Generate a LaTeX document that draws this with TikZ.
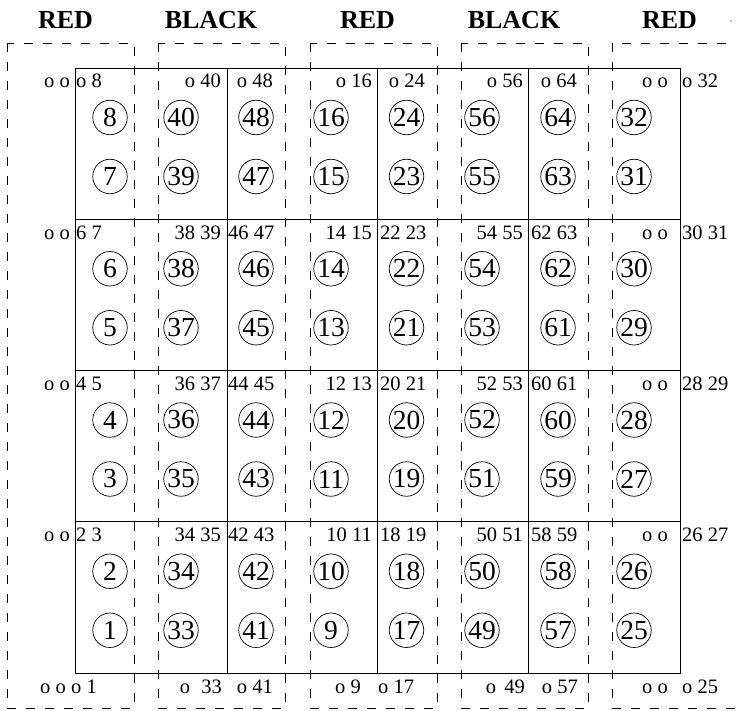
\documentclass[tikz,border=0pt]{standalone}
\usepackage{fontspec}
\setmainfont{Liberation Serif}
\begin{document}
\begin{tikzpicture}[x=1pt,y=-1pt,
  lab/.style={font=\fontsize{20.5}{22}\selectfont, inner sep=0pt},
  labl/.style={lab, anchor=base east},
  labr/.style={lab, anchor=base west},
  hdr/.style={font=\fontsize{26}{28}\selectfont\bfseries, inner sep=0pt, anchor=base},
  cnum/.style={draw, circle, line width=0.7pt, minimum size=34.5pt, inner sep=0pt, font=\fontsize{27.5}{29}\selectfont},
  grp/.style={line width=0.8pt, dash pattern=on 9pt off 10pt},
  gridl/.style={line width=0.8pt}]
\useasboundingbox (0,0) rectangle (736,711);

% headers
\node[hdr] (h1) at (65.5,29) {RED};
\node[hdr] (h2) at (211,29) {BLACK};
\node[hdr] (h3) at (367.5,29) {RED};
\node[hdr] (h4) at (514,29) {BLACK};
\node[hdr] (h5) at (669.5,29) {RED};
\node[circle, fill, inner sep=0pt, minimum size=1.4pt] (dot) at (731,21) {};

% dashed groups
\draw[grp] (7,43) rectangle (134,708);
\draw[grp] (158,43) rectangle (285,708);
\draw[grp] (310,43) rectangle (437,708);
\draw[grp] (461,43) rectangle (588,708);
\draw[grp] (745,43) -- (612,43) -- (612,708) -- (745,708);

% solid grid
\draw[gridl] (75,68) rectangle (680,673);
\foreach \gx in {227,377,528} \draw[gridl] (\gx,68) -- (\gx,673);
\foreach \gy in {219.25,370.5,521.75} \draw[gridl] (75,\gy) -- (680,\gy);

% circled numbers
\foreach \cx/\ct in {110/8,181/40,256/48,331/16,406.5/24,482/56,558/64,634/32} {
  \foreach \r in {0,1,2,3} {
    \pgfmathtruncatemacro\ca{\ct-2*\r}
    \pgfmathtruncatemacro\cb{\ct-2*\r-1}
    \pgfmathsetmacro\yy{68+151.25*\r}
    \node[cnum] (c\ca) at (\cx,\yy+49.5) {\ca};
    \node[cnum] (c\cb) at (\cx,\yy+108.5) {\cb};
  }
}

% row 0 labels
\node[labl] (a0) at (70,88) {o o};
\node[labr] (b0) at (76,88) {o 8};
\node[labl] (a1) at (221,88) {o 40};
\node[labl] (b1) at (273,88) {o 48};
\node[labl] (a2) at (372,88) {o 16};
\node[labl] (b2) at (425,88) {o 24};
\node[labl] (a3) at (523,88) {o 56};
\node[labl] (b3) at (577,88) {o 64};
\node[labl] (a4) at (668,88) {o o};
\node[labr] (b4) at (682,88) {o 32};

% rows 1-3 labels
\foreach \r/\yb/\p/\q/\s/\t/\u/\v/\w/\z in {
  1/239.25/6 7/38 39/46 47/14 15/22 23/54 55/62 63/30 31,
  2/390.5/4 5/36 37/44 45/12 13/20 21/52 53/60 61/28 29,
  3/541.75/2 3/34 35/42 43/10 11/18 19/50 51/58 59/26 27} {
  \node[labl] (r\r a0) at (70,\yb) {o o};
  \node[labr] (r\r b0) at (76,\yb) {\p};
  \node[labl] (r\r a1) at (221,\yb) {\q};
  \node[labr] (r\r b1) at (228,\yb) {\s};
  \node[labl] (r\r a2) at (372,\yb) {\t};
  \node[labr] (r\r b2) at (380,\yb) {\u};
  \node[labl] (r\r a3) at (523,\yb) {\v};
  \node[labr] (r\r b3) at (531,\yb) {\w};
  \node[labl] (r\r a4) at (668,\yb) {o o};
  \node[labr] (r\r b4) at (682,\yb) {\z};
}

% bottom labels
\node[labl] (e0) at (66,693) {o o};
\node[labr] (f0) at (71,693) {o 1};
\node[labl] (e1) at (222,693) {o\hspace{0.55em}33};
\node[labl] (f1) at (273,693) {o 41};
\node[labl] (e2) at (361,693) {o 9};
\node[labr] (f2) at (378,693) {o 17};
\node[labl] (e3) at (525,693) {o\hspace{0.4em}49};
\node[labl] (f3) at (578,693) {o 57};
\node[labl] (e4) at (668,693) {o o};
\node[labr] (f4) at (682,693) {o 25};
\end{tikzpicture}
\end{document}
